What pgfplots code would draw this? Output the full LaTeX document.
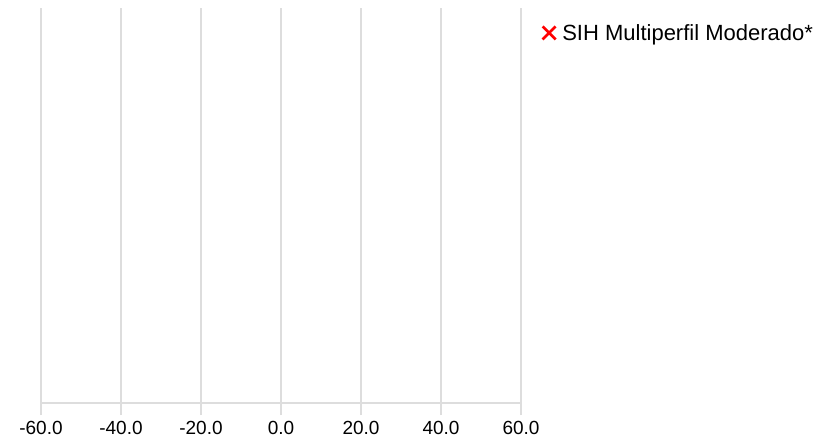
\documentclass[border=0pt]{standalone}
\usepackage{fontspec}
\setmainfont{Liberation Sans}
\usepackage{pgfplots}
\pgfplotsset{compat=1.18}
\definecolor{gridgray}{HTML}{DDDDDD}
\begin{document}
\begin{tikzpicture}
\useasboundingbox (-41bp,-35bp) rectangle (790bp,403bp);
\begin{axis}[
  at={(0,0)}, anchor=south west,
  scale only axis, width=480bp, height=395bp,
  xmin=-60, xmax=60, ymin=0, ymax=1,
  axis x line*=bottom, axis y line=none,
  ytick=\empty,
  xtick={-60,-40,-20,0,20,40,60},
  xmajorgrids, grid style={gridgray, line width=2bp},
  x axis line style={gridgray, line width=2bp},
  major tick length=12bp, xtick align=outside,
  tick style={gridgray, line width=2bp},
  xticklabel style={font=\fontsize{19bp}{20bp}\selectfont, text=black, inner sep=0pt, yshift=-6bp,
    /pgf/number format/.cd, fixed, fixed zerofill, precision=1,
    /pgf/number format/assume math mode=true},
  legend style={at={(1.0417,0.937)}, anchor=west, draw=none, fill=none,
    inner sep=0pt, font=\fontsize{22bp}{24bp}\selectfont},
  legend cell align=left,
  legend image code/.code={\draw[#1, line width=2.8bp] (0bp,-6.5bp)--(13bp,6.5bp) (0bp,6.5bp)--(13bp,-6.5bp); \path (17.5bp,0bp);},
]
\addlegendimage{red}
\addlegendentry{SIH Multiperfil Moderado*}
\end{axis}
\end{tikzpicture}
\end{document}
